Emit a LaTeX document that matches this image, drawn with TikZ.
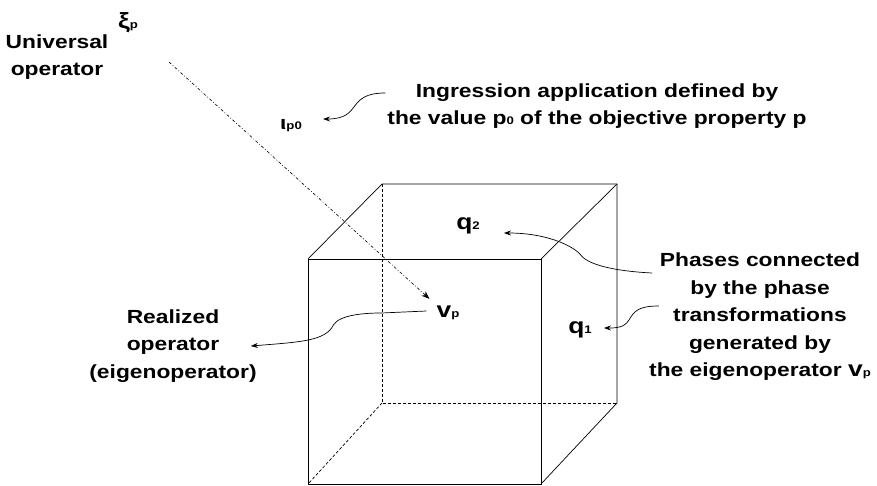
\documentclass[tikz,border=0pt]{standalone}
\usepackage{fontspec}
\setmainfont{Liberation Sans}[FakeStretch=1.2]
\usetikzlibrary{arrows.meta}
\newcommand{\smallidx}[1]{{\fontsize{11}{11}\selectfont #1}}
\tikzset{%
	note/.style={
		align=center,
		inner sep=0pt,
		font=\bfseries\fontsize{19}{27.5}\selectfont
	},
	sym/.style={
		inner sep=1pt,
		font=\bfseries\fontsize{22}{22}\selectfont
	},
	edge/.style={line width=0.7pt},
	hidden/.style={edge, dash pattern=on 3pt off 2pt},
}

\begin{document}
\begin{tikzpicture}[
			x=1pt, y=-1pt,
			link/.style={draw, line width=0.7pt, -{Stealth[length=7pt,width=5pt]}},
			ray/.style={draw, line width=0.6pt, dash pattern=on 3pt off 2pt on 0.8pt off 2pt, -{Stealth[length=8pt,width=6pt]}}
			]
			\useasboundingbox (0,0) rectangle (877,486);
			
			% Corners of the cube
			\coordinate (f1) at (308,259);
			\coordinate (f2) at (541,259);
			\coordinate (f3) at (541,484);
			\coordinate (f4) at (308,484);
			\coordinate (b1) at (382,184);
			\coordinate (b2) at (617,184);
			\coordinate (b3) at (617,403);
			\coordinate (b4) at (382,403);
			
			\draw[edge] (f1) rectangle (f3);
			\draw[edge] (f1) -- (b1) -- (b2) -- (b3) -- (f3);
			\draw[edge] (f2) -- (b2);
			\draw[hidden] (b1) -- (b4) -- (b3);
			\draw[hidden] (b4) -- (f4);
			
			% Labels
			\node[note] (universal) at (57,57) {Universal\\operator};
			\node[sym] (xi) at (128,23) {ξ\smallidx{p}};
			\node[sym, font=\bfseries\fontsize{19}{19}\selectfont] (iota) at (291,126) {ι\smallidx{p0}};
			\node[note] (ingr) at (597,106) {Ingression application defined by\\the value p\smallidx{0} of the objective property p};
			\node[sym] (q2) at (468,226) {q\smallidx{2}};
			\node[sym] (q1) at (580,330) {q\smallidx{1}};
			\node[sym] (vp) at (448,313) {v\smallidx{p}};
			\node[note] (realized) at (173,346) {Realized\\operator\\(eigenoperator)};
			\node[note] (phases) at (760,317) {Phases connected\\by the phase\\transformations\\generated by\\the eigenoperator {\fontsize{22}{22}\selectfont v}\smallidx{p}};
			
			% Free ends of the connectors
			\coordinate (raystart) at (169,62);
			\coordinate (ingtail) at ([shift={(-2,-13)}]ingr.west);
			\coordinate (q2tail) at ([shift={(3,-44)}]phases.west);
			\coordinate (q1tail) at ([shift={(10,-11)}]phases.west);
			
			\draw[ray] (raystart) -- ([shift={(-6,-6)}]vp.north west);
			\draw[link] (ingtail) .. controls +(-40,0) and +(40,0) .. ([shift={(20,-7)}]iota.east);
			\draw[link] ([shift={(-9,-2)}]vp.west) -- ++(-45,2)
				.. controls +(-18,0) and +(6,-10) .. ++(-48,12)
				.. controls +(-8,16) and +(50,-4) .. ([xshift=-6pt]realized.east);
			\draw[link] (q2tail) .. controls +(-40,-2) and +(6,10) .. ++(-72,-19)
				.. controls +(-10,-10) and +(40,0) .. ([shift={(23,7)}]q2.east);
			\draw[link] (q1tail) .. controls +(-22,0) and +(5,-8) .. ++(-30,14)
				.. controls +(-5,8) and +(12,0) .. ([shift={(11,-2)}]q1.east);
			
		\end{tikzpicture}
\end{document}
